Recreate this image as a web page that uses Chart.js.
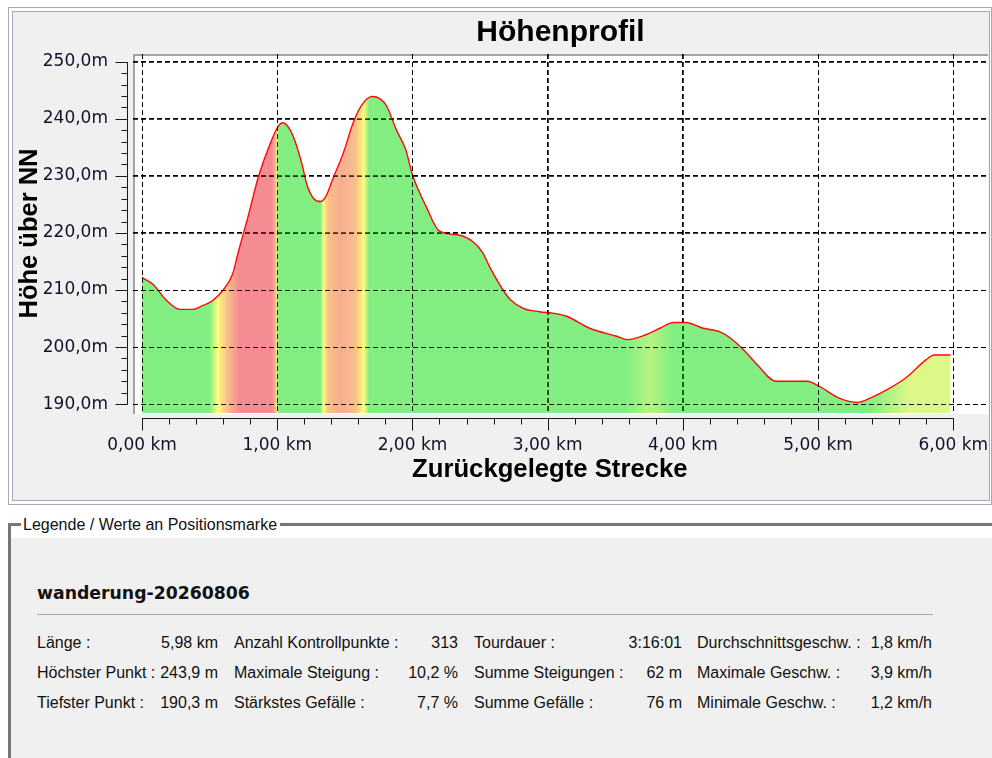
<!DOCTYPE html>
<html><head><meta charset="utf-8">
<script src="https://cdn.jsdelivr.net/npm/chart.js@4/dist/chart.umd.min.js"></script>
<style>
html,body{margin:0;padding:0;background:#fff;width:992px;height:758px;overflow:hidden;}
#panel{position:absolute;left:8px;top:7px;width:982px;height:496px;border:1px solid #a7a9b5;background:#fff;}
#panelInner{position:absolute;left:3px;top:3px;right:1px;bottom:3px;border:1px solid #a7a9b5;background:#f0f0f0;}
#plotBg{position:absolute;left:133px;top:54px;width:855px;height:360px;box-sizing:border-box;background:#fff;border-top:2.5px solid #a3a3a3;border-left:2.5px solid #a3a3a3;}
#chartWrap{position:absolute;left:0;top:0;width:992px;height:500px;}
#group{position:absolute;left:8px;top:523px;width:990px;height:240px;border-top:3px solid #767676;border-left:3px solid #767676;background:#fff;}
#groupInner{position:absolute;left:0;top:12px;right:0;bottom:0;background:#f0f0f0;}
#groupLabel{position:absolute;left:10px;top:-10px;height:20px;line-height:20px;padding:0 3px 0 2px;background:#fff;font:16px 'Liberation Sans',Arial,sans-serif;color:#111;}
.t{position:absolute;font:16px 'Liberation Sans',Arial,sans-serif;color:#111;line-height:20px;white-space:nowrap;}
.v{text-align:right;}
#heading{position:absolute;left:37px;top:583px;font:bold 17.3px 'DejaVu Sans',sans-serif;line-height:20px;color:#111;}
#rule{position:absolute;left:37px;top:614px;width:896px;height:0;border-top:1px solid #a8a8a8;}
</style></head>
<body>
<div id="panel"><div id="panelInner"></div></div>
<div id="plotBg"></div>
<div id="chartWrap"><canvas id="c"></canvas></div>
<div id="group"><div id="groupInner"></div><div id="groupLabel">Legende / Werte an Positionsmarke</div></div>
<div id="heading">wanderung-20260806</div>
<div id="rule"></div>
<div id="stats"></div>
<script>
// ---- data ----
const distanceKm = [0.00,0.08,0.18,0.28,0.38,0.45,0.52,0.60,0.67,0.71,0.78,0.86,0.95,1.01,1.04,1.08,1.12,1.18,1.22,1.27,1.32,1.36,1.41,1.49,1.56,1.62,1.70,1.76,1.81,1.88,1.95,2.00,2.10,2.20,2.35,2.45,2.52,2.57,2.67,2.72,2.82,2.94,3.05,3.14,3.31,3.51,3.59,3.73,3.83,3.93,4.02,4.15,4.27,4.35,4.45,4.55,4.69,4.92,5.01,5.16,5.29,5.38,5.53,5.66,5.80,5.86,5.98];
const elevationM = [212.2,211.0,208.2,206.6,206.6,207.3,208.1,210.0,212.8,216.5,222.5,229.8,235.8,238.8,239.3,238.6,236.8,232.3,228.4,226.0,225.5,226.4,229.4,234.1,239.2,242.2,243.9,243.5,242.2,238.1,234.6,230.2,224.7,220.3,219.6,218.4,216.5,214.1,210.0,208.4,206.8,206.2,205.9,205.4,203.3,201.9,201.3,202.2,203.3,204.3,204.3,203.3,202.7,201.6,199.5,196.9,194.0,194.0,193.1,191.0,190.3,191.0,192.8,194.8,197.8,198.6,198.6];
const xTickValues = [0,1,2,3,4,5,6];
const xTickLabels = ['0,00 km','1,00 km','2,00 km','3,00 km','4,00 km','5,00 km','6,00 km'];
const yTickValues = [190,200,210,220,230,240,250];
const yTickLabels = ['190,0m','200,0m','210,0m','220,0m','230,0m','240,0m','250,0m'];
const statRows = [
  ['Länge :','5,98 km','Anzahl Kontrollpunkte :','313','Tourdauer :','3:16:01','Durchschnittsgeschw. :','1,8 km/h'],
  ['Höchster Punkt :','243,9 m','Maximale Steigung :','10,2 %','Summe Steigungen :','62 m','Maximale Geschw. :','3,9 km/h'],
  ['Tiefster Punkt :','190,3 m','Stärkstes Gefälle :','7,7 %','Summe Gefälle :','76 m','Minimale Geschw. :','1,2 km/h']
];

// ---- style (slope colour bands, semi-transparent like the dithered original) ----
const G='rgba(20,224,20,0.53)', Y='rgba(252,252,30,0.58)', O='rgba(246,140,40,0.55)', R='rgba(236,25,40,0.5)', S='rgba(242,105,55,0.55)', YG='rgba(120,232,20,0.53)', YG2='rgba(190,240,30,0.53)';
const slopeColourStops = [[0,G],[0.50,G],[0.56,Y],[0.63,O],[0.72,R],[0.96,R],[0.99,O],[1.0,Y],[1.008,G],[1.32,G],[1.34,Y],[1.38,O],[1.47,S],[1.58,O],[1.64,Y],[1.68,G],[3.58,G],[3.76,YG],[3.92,G],[5.38,G],[5.68,YG2],[6.0,YG2]];

// stats table
(function(){
  const labLeft=[37,234,474,697], valRight=[218,458,682,932], rowTop=[633,662.5,692.5];
  const box=document.getElementById('stats');
  statRows.forEach((row,r)=>{
    for(let c=0;c<4;c++){
      const l=document.createElement('div'); l.className='t'; l.style.left=labLeft[c]+'px'; l.style.top=rowTop[r]+'px'; l.textContent=row[c*2]; box.appendChild(l);
      const v=document.createElement('div'); v.className='t v'; v.style.left=(valRight[c]-120)+'px'; v.style.width='120px'; v.style.top=rowTop[r]+'px'; v.textContent=row[c*2+1]; box.appendChild(v);
    }
  });
})();

function slopeFill(chart){
  const a=chart.chartArea, xs=chart.scales && chart.scales.x;
  if(!a||!xs) return G;
  const x0=xs.getPixelForValue(0), x1=xs.getPixelForValue(6);
  if(!isFinite(x0)||!isFinite(x1)||x1<=x0) return G;
  const grad=chart.ctx.createLinearGradient(x0,0,x1,0);
  slopeColourStops.forEach(([km,col])=>grad.addColorStop(Math.min(1,km/6),col));
  return grad;
}

// grid continued over the filled area (drawn last, from the scales' own ticks)
const gridOverlay={id:'gridOverlay',afterDraw(chart){
  const {ctx,chartArea:a,scales:{x:xs,y:ys}}=chart;
  ctx.save();
  ctx.globalAlpha=0.75; ctx.strokeStyle='#000'; ctx.lineWidth=1; ctx.setLineDash([5,3]);
  ctx.beginPath();
  xs.ticks.forEach(t=>{const p=Math.round(xs.getPixelForValue(t.value))+0.5; ctx.moveTo(p,a.top); ctx.lineTo(p,a.bottom);});
  ys.ticks.forEach(t=>{const p=Math.round(ys.getPixelForValue(t.value))+0.5; ctx.moveTo(a.left,p); ctx.lineTo(a.right,p);});
  ctx.stroke(); ctx.restore();
}};
const axisLines={id:'axisLines',afterDraw(chart){
  const {ctx,chartArea:a,scales:{x:xs,y:ys}}=chart; ctx.save();
  ctx.strokeStyle='#1a1a1a'; ctx.lineWidth=1;
  const ax=Math.round(a.left-6)+0.5;
  const yt=Math.round(ys.getPixelForValue(250)), yb=Math.round(ys.getPixelForValue(190));
  ctx.beginPath(); ctx.moveTo(ax,yt); ctx.lineTo(ax,yb+0.5);
  for(let v=190;v<=250;v+=2){const p=Math.round(ys.getPixelForValue(v))+0.5; const len=(v%10===0)?12:6; ctx.moveTo(ax-len,p); ctx.lineTo(ax,p);}
  const ay=Math.round(a.bottom+5)+0.5;
  const xl=Math.round(xs.getPixelForValue(0)), xr=Math.round(xs.getPixelForValue(6));
  ctx.moveTo(xl,ay); ctx.lineTo(xr+0.5,ay);
  for(let i=0;i<=30;i++){const p=Math.round(xs.getPixelForValue(i/5))+0.5; const len=(i%5===0)?12:6; ctx.moveTo(p,ay); ctx.lineTo(p,ay+len);}
  ctx.stroke(); ctx.restore();
}};

const tickFont={family:'DejaVu Sans',size:17};
const tickColor='#12122a';
new Chart(document.getElementById('c'),{
  type:'line',
  data:{datasets:[{
    data:distanceKm.map((d,i)=>({x:d,y:elevationM[i]})),
    borderColor:'#ff0a0a', borderWidth:1.4, pointRadius:0, cubicInterpolationMode:'monotone',
    fill:'start', backgroundColor:(ctx)=>slopeFill(ctx.chart)
  }]},
  options:{
    responsive:true, maintainAspectRatio:false, animation:false,
    layout:{padding:{left:10,right:4,top:0,bottom:0}},
    plugins:{
      legend:{display:false}, tooltip:{enabled:false},
      title:{display:true,text:'Höhenprofil',fullSize:false,color:'#000',font:{family:'Liberation Sans',size:30,weight:'bold'},padding:{top:15,bottom:3}}
    },
    scales:{
      x:{type:'linear',min:-0.067,max:6.257,
        afterBuildTicks:s=>{s.ticks=xTickValues.map(v=>({value:v}));},
        afterFit:s=>{s.height=87;},
        ticks:{font:tickFont,color:tickColor,padding:0,maxRotation:0,autoSkip:false,callback:(v)=>xTickLabels[xTickValues.indexOf(v)]},
        grid:{color:'#000',lineWidth:1,drawTicks:true,tickLength:22,tickColor:'rgba(0,0,0,0)'},
        border:{display:false,dash:[5,3]},
        title:{display:true,text:'Zurückgelegte Strecke\u00A0\u00A0\u00A0',color:'#000',font:{family:'Liberation Sans',size:25.7,weight:'bold'},padding:{top:0,bottom:15}}
      },
      y:{type:'linear',min:188.45,max:251.35,
        afterBuildTicks:s=>{s.ticks=yTickValues.map(v=>({value:v}));},
        afterFit:s=>{s.width=123;},
        ticks:{font:tickFont,color:tickColor,padding:0,autoSkip:false,callback:(v)=>yTickLabels[yTickValues.indexOf(v)]},
        grid:{color:'#000',lineWidth:1,drawTicks:true,tickLength:25,tickColor:'rgba(0,0,0,0)'},
        border:{display:false,dash:[5,3]},
        title:{display:true,text:'Höhe über NN',color:'#000',font:{family:'Liberation Sans',size:25.5,weight:'bold'},padding:{top:5,bottom:0}}
      }
    }
  },
  plugins:[gridOverlay,axisLines]
});
</script>
</body></html>
